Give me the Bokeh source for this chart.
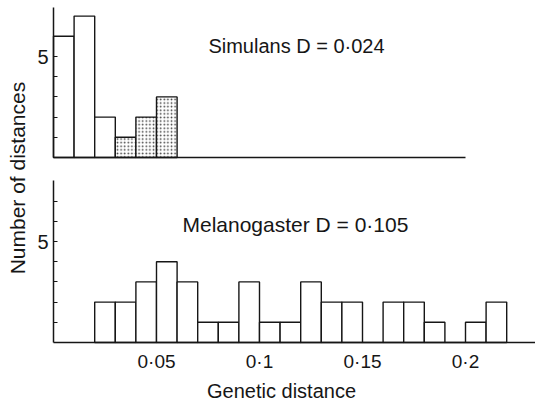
import math
from bokeh.plotting import figure
from bokeh.models import Range1d, LinearAxis, FixedTicker, Label, ColumnDataSource
from bokeh.core.properties import field
from bokeh.embed import file_html
from bokeh.resources import INLINE

# ---------------- data ----------------
bin_width = 0.01

simulans_bin_start = [0.00, 0.01, 0.02, 0.03, 0.04, 0.05]
simulans_counts = [6, 7, 2, 1, 2, 3]
simulans_stippled = [False, False, False, True, True, True]

melanogaster_bin_start = [0.02, 0.03, 0.04, 0.05, 0.06, 0.07, 0.08, 0.09, 0.10, 0.11,
                          0.12, 0.13, 0.14, 0.15, 0.16, 0.17, 0.18, 0.19, 0.20, 0.21]
melanogaster_counts = [2, 2, 3, 4, 3, 1, 1, 3, 1, 1,
                       3, 2, 2, 0, 2, 2, 1, 0, 1, 2]

x_tick_values = [0.05, 0.10, 0.15, 0.20]
x_tick_labels = ["0·05", "0·1", "0·15", "0·2"]
y_tick_values = [5]
y_tick_labels = ["5"]
y_minor_top = [1, 2, 3, 4]
y_minor_bottom = [1, 2, 3, 4, 6, 7]

simulans_title = "Simulans D = 0·024"
melanogaster_title = "Melanogaster D = 0·105"
x_title = "Genetic distance"
y_title = "Number of distances"

# ---------------- layout / style ----------------
FONT = "Liberation Sans"
INK = "#161616"
W, H = 535, 403
PX_PER_X = 2060.0      # pixels per unit of genetic distance
PX_PER_Y = 20.2        # pixels per count
ORIGIN_X = 53          # px of distance 0 from the left edge
BASE_BOTTOM = 342      # px of the lower panel's baseline from the top
BASE_TOP = 157         # px of the upper panel's baseline from the top

x_start = -ORIGIN_X / PX_PER_X
x_end = (W - ORIGIN_X) / PX_PER_X
main_y_start = -(H - BASE_BOTTOM) / PX_PER_Y
main_y_end = BASE_BOTTOM / PX_PER_Y
top_y_start = -(H - BASE_TOP) / PX_PER_Y
top_y_end = BASE_TOP / PX_PER_Y

p = figure(frame_width=W, frame_height=H,
           min_border_left=0, min_border_right=0, min_border_top=0, min_border_bottom=0,
           x_range=Range1d(x_start, x_end), y_range=Range1d(main_y_start, main_y_end),
           output_backend="svg", toolbar_location=None,
           background_fill_color="white", border_fill_color="white",
           outline_line_color=None)
p.extra_y_ranges = {"top": Range1d(top_y_start, top_y_end)}
p.grid.visible = False

# ---------------- bars ----------------
sim_src = ColumnDataSource(dict(
    left=simulans_bin_start,
    right=[b + bin_width for b in simulans_bin_start],
    top=simulans_counts,
    hatch=["dot" if s else "blank" for s in simulans_stippled],
))
p.quad(left="left", right="right", top="top", bottom=0, source=sim_src,
       y_range_name="top", fill_color="white", line_color=INK, line_width=1.4,
       hatch_pattern=field("hatch"), hatch_color="#2a2a2a", hatch_scale=3.6,
       hatch_weight=1, hatch_alpha=0.9)

mel_src = ColumnDataSource(dict(
    left=melanogaster_bin_start,
    right=[b + bin_width for b in melanogaster_bin_start],
    top=melanogaster_counts,
))
p.quad(left="left", right="right", top="top", bottom=0, source=mel_src,
       fill_color="white", line_color=INK, line_width=1.4)

# ---------------- axes ----------------
def style_axis(ax):
    ax.axis_line_color = INK
    ax.axis_line_width = 1.5
    ax.major_tick_line_color = INK
    ax.minor_tick_line_color = INK
    ax.major_tick_line_width = 1.2
    ax.minor_tick_line_width = 1.2
    ax.major_label_text_font = FONT
    ax.major_label_text_color = INK

def style_y(ax):
    style_axis(ax)
    ax.major_tick_in = 4
    ax.major_tick_out = 0
    ax.minor_tick_in = 4
    ax.minor_tick_out = 0
    ax.major_label_text_font_size = "20px"
    ax.major_label_standoff = 5

# lower panel x axis (with tick labels)
xa = p.xaxis[0]
style_axis(xa)
xa.fixed_location = 0
xa.bounds = (0, x_end)
xa.ticker = FixedTicker(ticks=x_tick_values, minor_ticks=[])
xa.major_label_overrides = dict(zip(x_tick_values, x_tick_labels))
xa.major_tick_in = 0
xa.major_tick_out = 0
xa.minor_tick_in = 0
xa.minor_tick_out = 0
xa.major_label_text_font_size = "19px"
xa.major_label_standoff = 8

# lower panel y axis (Melanogaster)
ya = p.yaxis[0]
style_y(ya)
ya.fixed_location = 0
ya.bounds = (0, 8)
ya.ticker = FixedTicker(ticks=y_tick_values, minor_ticks=y_minor_bottom)
ya.major_label_overrides = dict(zip(y_tick_values, y_tick_labels))

# upper panel y axis (Simulans)
ya_top = LinearAxis(y_range_name="top", fixed_location=0, bounds=(0, 7.45),
                    ticker=FixedTicker(ticks=y_tick_values, minor_ticks=y_minor_top))
style_y(ya_top)
ya_top.major_label_overrides = dict(zip(y_tick_values, y_tick_labels))
p.add_layout(ya_top, "left")

# upper panel baseline (Simulans)
xa_top = LinearAxis(y_range_name="top", fixed_location=0, bounds=(0, 0.2),
                    ticker=FixedTicker(ticks=[], minor_ticks=[]))
style_axis(xa_top)
xa_top.major_tick_in = 0
xa_top.major_tick_out = 0
xa_top.minor_tick_in = 0
xa_top.minor_tick_out = 0
xa_top.major_label_text_font_size = "0px"
p.add_layout(xa_top, "below")

# ---------------- texts ----------------
p.add_layout(Label(x=0.0752, y=5.5, y_range_name="top", text=simulans_title,
                   text_font=FONT, text_font_size="20px", text_color=INK,
                   text_baseline="alphabetic", text_align="left"))
p.add_layout(Label(x=0.0626, y=5.84, text=melanogaster_title,
                   text_font=FONT, text_font_size="21px", text_color=INK,
                   text_baseline="alphabetic", text_align="left"))
p.add_layout(Label(x=0.1107, y=-2.42, text=x_title,
                   text_font=FONT, text_font_size="20px", text_color=INK,
                   text_baseline="alphabetic", text_align="center"))
p.add_layout(Label(x=-0.0175, y=8.14, text=y_title, angle=math.pi / 2,
                   text_font=FONT, text_font_size="21px", text_color=INK,
                   text_baseline="middle", text_align="center"))

open("out.html", "w").write(file_html(p, INLINE))
